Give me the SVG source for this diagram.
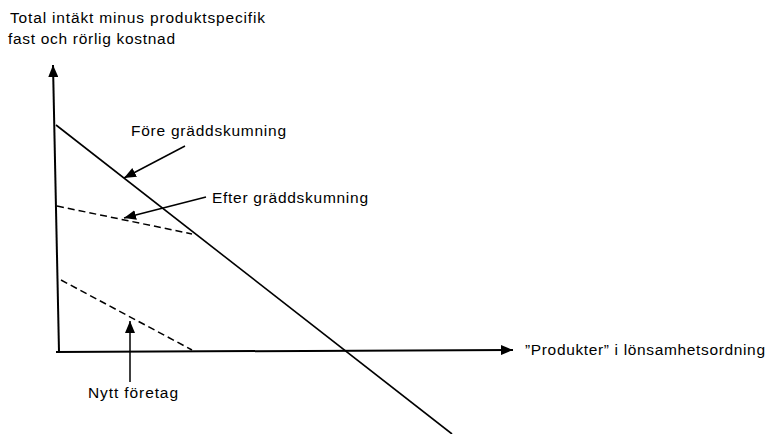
<svg xmlns="http://www.w3.org/2000/svg" width="777" height="434" viewBox="0 0 777 434">
<defs>
<marker id="ah" markerUnits="userSpaceOnUse" markerWidth="12" markerHeight="10" refX="12" refY="5" orient="auto">
<path d="M0,0 L12,5 L0,10 Z" fill="#000"/>
</marker>
<marker id="ahs" markerUnits="userSpaceOnUse" markerWidth="12" markerHeight="10" refX="12" refY="5" orient="auto">
<path d="M0,0 L12,5 L0,10 Z" fill="#000"/>
</marker>
<style>
text{font-family:"Liberation Sans",Arial,sans-serif;font-size:15.5px;fill:#000}
.ax{stroke:#000;stroke-width:2;fill:none}
.ln{stroke:#000;stroke-width:1.6;fill:none}
.ds{stroke:#000;stroke-width:1.5;fill:none;stroke-dasharray:7,4}
.pt{stroke:#000;stroke-width:1.5;fill:none}
</style>
</defs>
<rect width="777" height="434" fill="#fff"/>
<g id="connectors">
<line class="ax" x1="59" y1="352" x2="53" y2="65" marker-end="url(#ah)"/>
<line class="ax" x1="56" y1="352" x2="513" y2="350" marker-end="url(#ah)"/>
<line class="ln" x1="56" y1="125" x2="452" y2="434"/>
<line class="ds" x1="57" y1="206" x2="192" y2="234"/>
<line class="ds" x1="61" y1="280" x2="192" y2="350"/>
<line class="pt" x1="185" y1="146" x2="124" y2="178" marker-end="url(#ahs)"/>
<line class="pt" x1="206" y1="197" x2="124" y2="218" marker-end="url(#ahs)"/>
<line class="pt" x1="130" y1="382" x2="130" y2="321" marker-end="url(#ahs)"/>
</g>
<g id="yaxis-label">
<text x="10" y="23" textLength="255">Total intäkt minus produktspecifik</text>
<text x="8" y="44" textLength="167">fast och rörlig kostnad</text>
</g>
<g id="fore"><text x="131" y="136" textLength="155">Före gräddskumning</text></g>
<g id="efter"><text x="212" y="203" textLength="156">Efter gräddskumning</text></g>
<g id="nytt"><text x="88" y="398" textLength="90">Nytt företag</text></g>
<g id="xaxis-label"><text x="525" y="355" textLength="240">”Produkter” i lönsamhetsordning</text></g>
</svg>
